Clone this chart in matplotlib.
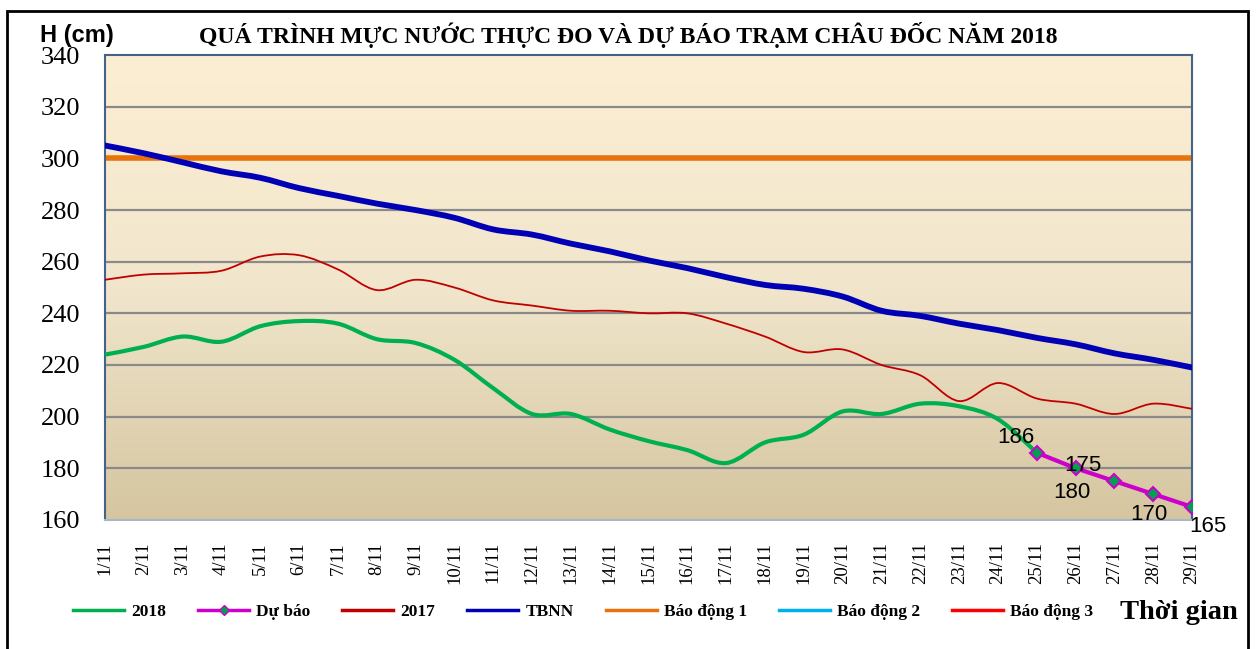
import numpy as np
import matplotlib

matplotlib.use("Agg")
import matplotlib.pyplot as plt
from matplotlib.path import Path
from matplotlib.patches import PathPatch, Rectangle
from matplotlib.lines import Line2D
from matplotlib.colors import LinearSegmentedColormap

days = [f"{d}/11" for d in range(1, 30)]

h_2018 = [224, 227, 231, 229, 235, 237, 236, 230, 228.5, 222, 211, 201, 201, 195,
          190.5, 187, 182, 190, 193, 202, 201, 205, 204, 199, 186]
forecast_days = ["25/11", "26/11", "27/11", "28/11", "29/11"]
h_forecast = [186, 180, 175, 170, 165]
h_2017 = [253, 255, 255.5, 256.5, 262, 262.5, 257, 249, 253, 250, 245, 243, 241, 241,
          240, 240, 236, 231, 225, 226, 220, 216, 206, 213, 207, 205, 201, 205, 203]
h_tbnn = [305, 302, 298.5, 295, 292.5, 288.5, 285.5, 282.5, 280, 277, 272.5, 270.5, 267,
          264, 260.5, 257.5, 254, 251, 249.5, 246.5, 241, 239, 236, 233.5, 230.5, 228,
          224.5, 222, 219]
alarm_levels = {"Báo động 1": 300, "Báo động 2": 350, "Báo động 3": 400}

C_2018 = "#00B050"
C_FC = "#CC00CC"
C_2017 = "#C00000"
C_TBNN = "#0000B4"
C_ALARM = {"Báo động 1": "#E8720C", "Báo động 2": "#00B0F0", "Báo động 3": "#FF0000"}


def smooth_path(x, y):
    # Catmull-Rom style bezier, like Excel's "smoothed line"
    pts = np.column_stack([x, y]).astype(float)
    n = len(pts)
    verts = [pts[0]]
    codes = [Path.MOVETO]
    for i in range(n - 1):
        p0 = pts[i - 1] if i > 0 else pts[i]
        p1, p2 = pts[i], pts[i + 1]
        p3 = pts[i + 2] if i + 2 < n else pts[i + 1]
        verts += [p1 + (p2 - p0) / 6, p2 - (p3 - p1) / 6, p2]
        codes += [Path.CURVE4] * 3
    return Path(verts, codes)


def draw_smooth(ax, x, y, color, lw, z):
    ax.add_patch(PathPatch(smooth_path(x, y), fill=False, edgecolor=color, lw=lw,
                           zorder=z, capstyle="round", joinstyle="round"))


fig = plt.figure(figsize=(12.56, 6.49), dpi=100)
fig.patches.append(Rectangle((0.0055, -0.01), 0.988, 0.993, transform=fig.transFigure,
                             fill=False, edgecolor="black", lw=2, zorder=0))
ax = fig.add_axes([0.0836, 0.199, 0.8655, 0.716])

grad = LinearSegmentedColormap.from_list("bg", ["#D5C5A0", "#F1E6CC", "#FCEED3"])
ax.imshow(np.linspace(0, 1, 256).reshape(-1, 1), extent=[0, 1, 0, 1], origin="lower",
          transform=ax.transAxes, aspect="auto", cmap=grad, zorder=0)

x_all = np.arange(len(days))
for yv in range(180, 340, 20):
    ax.axhline(yv, color="#8A8A8A", lw=1.6, zorder=1)

for name, lvl in alarm_levels.items():
    ax.axhline(lvl, color=C_ALARM[name], lw=4, zorder=2)

draw_smooth(ax, x_all, h_tbnn, C_TBNN, 4.2, 3)
draw_smooth(ax, x_all, h_2017, C_2017, 1.3, 4)
draw_smooth(ax, x_all[:len(h_2018)], h_2018, C_2018, 3, 5)

x_fc = [days.index(d) for d in forecast_days]
ax.plot(x_fc, h_forecast, color=C_FC, lw=3, marker="D", ms=7, mfc="#00A050",
        mec=C_FC, mew=1.5, zorder=6)

# data labels, placed where the original chart has them
lab = dict(fontsize=16, family="Liberation Sans", ha="center", va="center", zorder=7,
           clip_on=False)
ax.text(x_fc[0] - 0.55, h_forecast[0] + 6, "186", **lab)
ax.text(x_fc[1] + 0.2, h_forecast[1] + 1, "175", **lab)
ax.text(x_fc[1] - 0.1, h_forecast[1] - 9.5, "180", **lab)
ax.text(x_fc[3] - 0.1, h_forecast[3] - 8, "170", **lab)
ax.text(x_fc[4] + 0.4, h_forecast[4] - 7.5, "165", **lab)

ax.set_xlim(0, len(days) - 1)
ax.set_ylim(160, 340)
ax.set_xticks(x_all)
ax.set_xticklabels(days, rotation=90, family="Liberation Serif", fontsize=13.5)
ax.set_yticks(range(160, 341, 20))
ax.set_yticklabels([str(v) for v in range(160, 341, 20)], family="Liberation Serif",
                   fontsize=19)
ax.tick_params(axis="both", length=0)
ax.tick_params(axis="y", pad=18)
ax.tick_params(axis="x", pad=16)
for s in ax.spines.values():
    s.set_color("#44628A")
    s.set_linewidth(1.5)
ax.spines["bottom"].set_color("#A9B6C8")

fig.text(0.032, 0.946, "H (cm)", family="Liberation Sans", weight="bold", fontsize=17,
         va="center")
fig.text(0.50, 0.946, "QUÁ TRÌNH MỰC NƯỚC THỰC ĐO VÀ DỰ BÁO TRẠM CHÂU ĐỐC NĂM 2018",
         family="Liberation Serif", weight="bold", fontsize=17, ha="center", va="center")
fig.text(0.9387, 0.057, "Thời gian", family="Liberation Serif", weight="bold",
         fontsize=20.5, ha="center", va="center")

handles = [
    Line2D([], [], color=C_2018, lw=2.5),
    Line2D([], [], color=C_FC, lw=2.5, marker="D", ms=5, mfc="#00A050", mec=C_FC),
    Line2D([], [], color=C_2017, lw=2.5),
    Line2D([], [], color=C_TBNN, lw=2.5),
] + [Line2D([], [], color=C_ALARM[n], lw=2.5) for n in alarm_levels]
labels = ["2018", "Dự báo", "2017", "TBNN"] + list(alarm_levels)
fig.legend(handles, labels, loc="center left", bbox_to_anchor=(0.0581, 0.057), ncol=7,
           frameon=False, prop={"family": "Liberation Serif", "weight": "bold", "size": 12.5},
           handlelength=2.94, handletextpad=0.4, columnspacing=1.85,
           borderpad=0, borderaxespad=0)

fig.savefig("out.png", dpi=100)
